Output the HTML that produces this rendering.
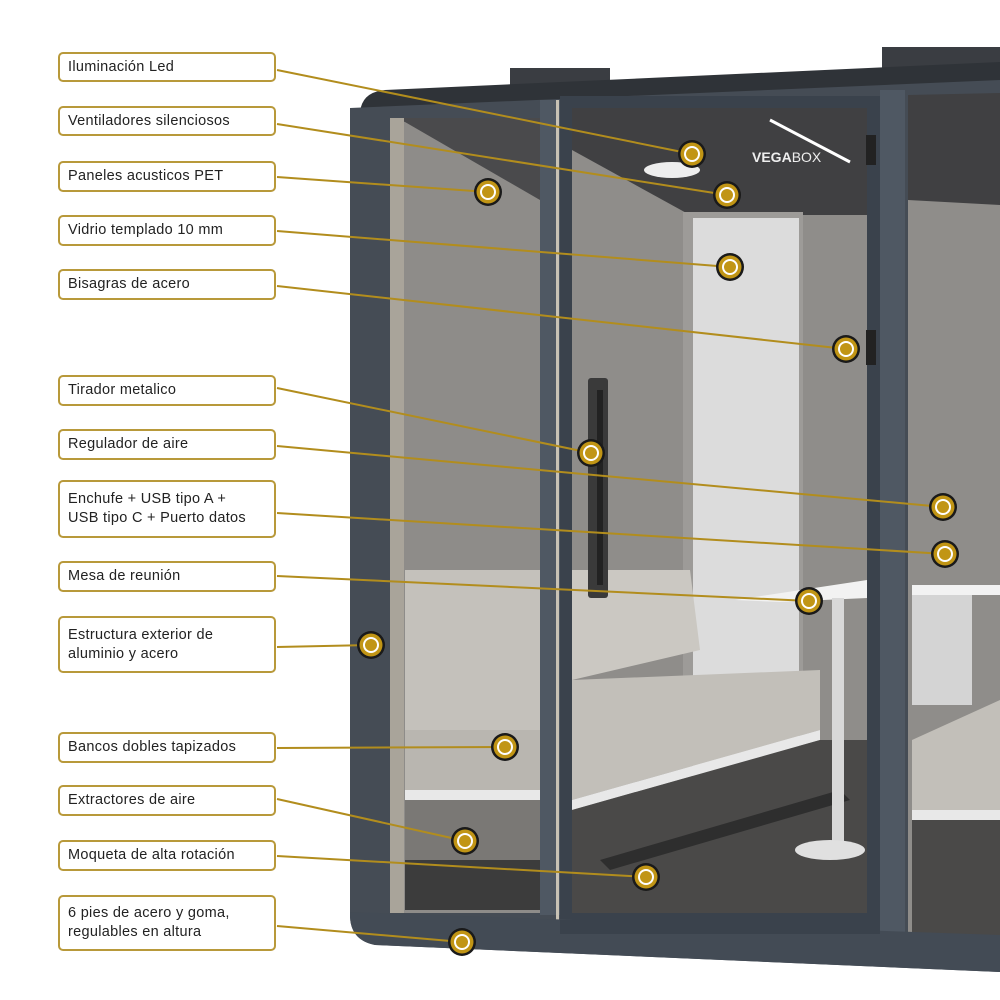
<!DOCTYPE html>
<html><head><meta charset="utf-8"><style>
html,body{margin:0;padding:0;background:#fff;width:1000px;height:1000px;overflow:hidden}
.l{position:absolute;left:58px;width:218px;border:2px solid #b8993a;border-radius:5px;background:#fff;box-sizing:border-box;
font-family:"Liberation Sans",sans-serif;font-size:14.5px;color:#222;padding:0 8px;display:flex;align-items:center;line-height:19px;letter-spacing:0.3px}
</style></head><body>
<svg width="1000" height="1000" style="position:absolute;left:0;top:0">
<rect x="510" y="68" width="100" height="20" fill="#3a3d42"/>
<rect x="882" y="47" width="118" height="22" fill="#3a3d42"/>
<path d="M360 112 Q362 92 385 90 L1000 62 L1000 96 L360 116Z" fill="#2f3338"/>
<path d="M350 108 L1000 80 L1000 972 L375 945 Q350 940 350 915Z" fill="#454c55"/>
<rect x="390" y="118" width="150" height="795" fill="#8e8c89"/>
<path d="M405 122 L540 200 L540 118 L390 118Z" fill="#4a4a4c"/>
<rect x="390" y="118" width="14" height="795" fill="#a9a49a"/>
<rect x="405" y="570" width="135" height="160" fill="#c4c1bb"/>
<rect x="405" y="730" width="135" height="60" fill="#b9b6b0"/>
<rect x="405" y="790" width="135" height="10" fill="#e8e8e8"/>
<rect x="405" y="800" width="135" height="60" fill="#7a7875"/>
<rect x="405" y="860" width="135" height="50" fill="#3c3c3c"/>
<rect x="540" y="100" width="22" height="815" fill="#4f5863"/>
<rect x="560" y="96" width="320" height="840" fill="#3a424c"/>
<rect x="572" y="108" width="295" height="805" fill="#8f8d8a"/>
<path d="M572 108 L867 108 L867 215 L690 215 L572 150Z" fill="#404042"/>
<ellipse cx="672" cy="170" rx="28" ry="8" fill="#eee"/>
<line x1="770" y1="120" x2="850" y2="162" stroke="#fff" stroke-width="3"/>
<text x="752" y="162" font-family="Liberation Sans,sans-serif" font-size="14" fill="#eee" font-weight="bold">VEGA<tspan font-weight="normal">BOX</tspan></text>
<rect x="683" y="212" width="120" height="580" fill="#9d9b98"/>
<rect x="693" y="218" width="106" height="570" fill="#dcdcdc"/>
<path d="M572 570 L690 570 L700 650 L572 680Z" fill="#cbc8c2"/>
<path d="M572 680 L820 670 L820 730 L572 800Z" fill="#c2bfb9"/>
<path d="M572 800 L820 730 L820 740 L572 810Z" fill="#e8e8e8"/>
<path d="M572 810 L820 740 L867 740 L867 913 L572 913Z" fill="#4a4948"/>
<path d="M600 860 L840 790 L850 800 L610 870Z" fill="#2e2e2e"/>
<path d="M735 600 L867 580 L867 598 L780 602Z" fill="#f2f2f2"/>
<rect x="832" y="598" width="12" height="250" fill="#d8d8d8"/>
<ellipse cx="830" cy="850" rx="35" ry="10" fill="#e0e0e0"/>
<rect x="588" y="378" width="20" height="220" rx="3" fill="#3a3a3a"/>
<rect x="597" y="390" width="6" height="195" fill="#222"/>
<rect x="556" y="100" width="3" height="830" fill="#c8c2b5"/>
<rect x="866" y="135" width="10" height="30" fill="#222"/>
<rect x="866" y="330" width="10" height="35" fill="#222"/>
<rect x="880" y="90" width="25" height="850" fill="#4f5863"/>
<rect x="908" y="95" width="92" height="845" fill="#8f8d8a"/>
<path d="M908 95 L1000 93 L1000 205 L908 200Z" fill="#404042"/>
<rect x="912" y="585" width="88" height="10" fill="#f2f2f2"/>
<rect x="912" y="595" width="60" height="110" fill="#d4d4d4"/>
<path d="M912 740 L1000 700 L1000 810 L912 810Z" fill="#c2bfb9"/>
<rect x="912" y="810" width="88" height="10" fill="#e8e8e8"/>
<rect x="912" y="820" width="88" height="115" fill="#4a4948"/>
<path d="M350 912 L1000 935 L1000 972 L375 945 Q350 940 350 915Z" fill="#434b55"/>
<rect x="560" y="920" width="320" height="14" fill="#3a424c"/>
</svg>
<svg width="1000" height="1000" style="position:absolute;left:0;top:0">
<g stroke="#b28d1d" stroke-width="2" fill="none">
<line x1="277" y1="70" x2="692" y2="154"/>
<line x1="277" y1="124" x2="727" y2="195"/>
<line x1="277" y1="177" x2="488" y2="192"/>
<line x1="277" y1="231" x2="730" y2="267"/>
<line x1="277" y1="286" x2="846" y2="349"/>
<line x1="277" y1="388" x2="591" y2="453"/>
<line x1="277" y1="446" x2="943" y2="507"/>
<line x1="277" y1="513" x2="945" y2="554"/>
<line x1="277" y1="576" x2="809" y2="601"/>
<line x1="277" y1="647" x2="371" y2="645"/>
<line x1="277" y1="748" x2="505" y2="747"/>
<line x1="277" y1="799" x2="465" y2="841"/>
<line x1="277" y1="856" x2="646" y2="877"/>
<line x1="277" y1="926" x2="462" y2="942"/>
</g>
</svg>
<svg width="1000" height="1000" style="position:absolute;left:0;top:0">
<defs><g id="dot"><circle r="14" fill="#1a1a1a"/><circle r="11.5" fill="#c19515"/><circle r="8" fill="#fff"/><circle r="6" fill="#c19515"/></g></defs>
<use href="#dot" x="692" y="154"/><use href="#dot" x="727" y="195"/><use href="#dot" x="488" y="192"/>
<use href="#dot" x="730" y="267"/><use href="#dot" x="846" y="349"/><use href="#dot" x="591" y="453"/>
<use href="#dot" x="943" y="507"/><use href="#dot" x="945" y="554"/><use href="#dot" x="809" y="601"/>
<use href="#dot" x="371" y="645"/><use href="#dot" x="505" y="747"/><use href="#dot" x="465" y="841"/>
<use href="#dot" x="646" y="877"/><use href="#dot" x="462" y="942"/>
</svg>
<div class="l" style="top:52px;height:30px">Iluminación Led</div>
<div class="l" style="top:106px;height:30px">Ventiladores silenciosos</div>
<div class="l" style="top:161px;height:31px">Paneles acusticos PET</div>
<div class="l" style="top:215px;height:31px">Vidrio templado 10 mm</div>
<div class="l" style="top:269px;height:31px">Bisagras de acero</div>
<div class="l" style="top:375px;height:31px">Tirador metalico</div>
<div class="l" style="top:429px;height:31px">Regulador de aire</div>
<div class="l" style="top:480px;height:58px">Enchufe + USB tipo A +<br>USB tipo C + Puerto datos</div>
<div class="l" style="top:561px;height:31px">Mesa de reunión</div>
<div class="l" style="top:616px;height:57px">Estructura exterior de<br>aluminio y acero</div>
<div class="l" style="top:732px;height:31px">Bancos dobles tapizados</div>
<div class="l" style="top:785px;height:31px">Extractores de aire</div>
<div class="l" style="top:840px;height:31px">Moqueta de alta rotación</div>
<div class="l" style="top:895px;height:56px">6 pies de acero y goma,<br>regulables en altura</div>
</body></html>
